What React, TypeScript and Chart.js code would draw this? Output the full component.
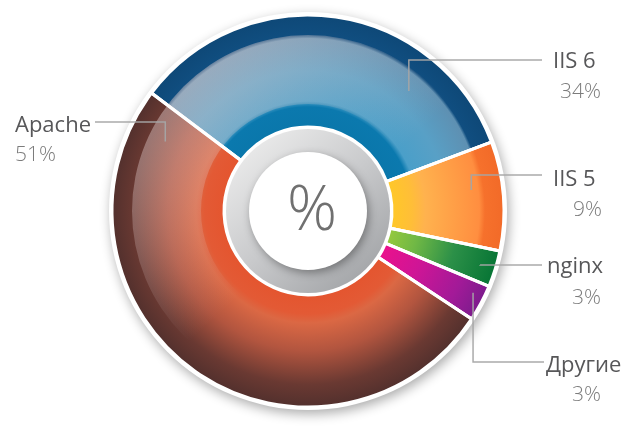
import React, { useEffect, useRef } from "react";
import { Chart, registerables } from "chart.js";

Chart.register(...registerables);

// ---- data ----
const categories = ["IIS 6", "IIS 5", "nginx", "Другие", "Apache"];
const shares = [34, 9, 3, 3, 51];
const percentLabels = ["34%", "9%", "3%", "3%", "51%"];
const centerSymbol = "%";

// ---- styles (radial colour stops, t: 0 = inner edge, 1 = outer edge) ----
const gradientStops: [number, string][][] = [
  [[0, "#0A77AB"], [0.18, "#0B79AE"], [0.23, "#4A9FC9"], [0.5, "#58A0C6"], [0.79, "#5E90B2"], [0.815, "#104E80"], [1, "#0E4877"]],
  [[0, "#FFC828"], [0.18, "#FFBE38"], [0.3, "#FFB24E"], [0.78, "#FF8E40"], [0.83, "#F6712C"], [1, "#F26A28"]],
  [[0, "#95C93E"], [0.25, "#70B845"], [0.6, "#2C9048"], [1, "#077535"]],
  [[0, "#EA118C"], [0.35, "#CF1596"], [0.75, "#A21A98"], [1, "#7D1C8D"]],
  [[0, "#E4552F"], [0.17, "#E35A35"], [0.25, "#DB6844"], [0.5, "#B2553F"], [0.8, "#6A3932"], [1, "#52302D"]],
];

// ---- label layout (anchor inside the slice, elbow line, text placement) ----
const labelLayout = [
  { side: "right", angleFrac: 0.76, radiusFrac: 0.8, lineY: 60, lineEnd: 542, nameX: 553, nameY: 68, pctX: 601, pctY: 98 },
  { side: "right", angleFrac: 0.41, radiusFrac: 0.84, lineY: 175, lineEnd: 542, nameX: 553, nameY: 186, pctX: 602, pctY: 216 },
  { side: "right", angleFrac: 0.52, radiusFrac: 0.92, lineY: 265, lineEnd: 542, nameX: 547, nameY: 273, pctX: 601, pctY: 304 },
  { side: "right", angleFrac: 0.35, radiusFrac: 0.94, lineY: 362, lineEnd: 544, nameX: 546, nameY: 372, pctX: 601, pctY: 401 },
  { side: "left", angleFrac: 0.94, radiusFrac: 0.81, lineY: 122, lineEnd: 95, nameX: 15, nameY: 132, pctX: 15, pctY: 161 },
];

const CUTOUT = 84;
const BORDER = 3;

function geometry(chart: any) {
  const a = chart.chartArea;
  const cx = (a.left + a.right) / 2;
  const cy = (a.top + a.bottom) / 2;
  const outer = (Math.min(a.right - a.left, a.bottom - a.top) - BORDER) / 2;
  return { cx, cy, outer, inner: CUTOUT };
}

const decorPlugin = {
  id: "decor",
  beforeDatasetsDraw(chart: any) {
    const ctx = chart.ctx;
    const { cx, cy, outer } = geometry(chart);
    ctx.save();
    ctx.shadowColor = "rgba(0,0,0,0.33)";
    ctx.shadowBlur = 12;
    ctx.shadowOffsetX = 2;
    ctx.shadowOffsetY = 4;
    ctx.fillStyle = "#ffffff";
    ctx.beginPath();
    ctx.arc(cx, cy, outer + 3, 0, Math.PI * 2);
    ctx.fill();
    ctx.restore();
  },
  afterDatasetsDraw(chart: any) {
    const ctx = chart.ctx;
    const { cx, cy, outer, inner } = geometry(chart);
    const meta = chart.getDatasetMeta(0);

    // glossy light from the upper left, on the middle band only
    ctx.save();
    ctx.beginPath();
    ctx.arc(cx, cy, 176, 0, Math.PI * 2);
    ctx.arc(cx, cy, 107, 0, Math.PI * 2, true);
    ctx.clip();
    const g = ctx.createLinearGradient(cx - 190, cy - 120, cx + 20, cy + 110);
    g.addColorStop(0, "rgba(225,205,205,0.55)");
    g.addColorStop(0.45, "rgba(225,205,205,0.22)");
    g.addColorStop(0.75, "rgba(225,205,205,0)");
    ctx.fillStyle = g;
    ctx.fillRect(cx - outer, cy - outer, outer * 2, outer * 2);
    ctx.restore();

    // re-draw white separators over the overlay
    ctx.save();
    ctx.strokeStyle = "#ffffff";
    ctx.lineWidth = BORDER;
    meta.data.forEach((arc: any) => {
      const p = arc.getProps(["startAngle"], true);
      ctx.beginPath();
      ctx.moveTo(cx + Math.cos(p.startAngle) * (inner - 1), cy + Math.sin(p.startAngle) * (inner - 1));
      ctx.lineTo(cx + Math.cos(p.startAngle) * (outer + 1), cy + Math.sin(p.startAngle) * (outer + 1));
      ctx.stroke();
    });
    ctx.restore();

    // grey ring
    ctx.save();
    const rg = ctx.createLinearGradient(cx - 60, cy - 70, cx + 60, cy + 70);
    rg.addColorStop(0, "#EBEBEB");
    rg.addColorStop(0.5, "#C9CACC");
    rg.addColorStop(1, "#A2A4A7");
    ctx.fillStyle = rg;
    ctx.beginPath();
    ctx.arc(cx, cy, inner - 2, 0, Math.PI * 2);
    ctx.fill();
    ctx.restore();

    // white disk with shadow
    ctx.save();
    ctx.shadowColor = "rgba(0,0,0,0.35)";
    ctx.shadowBlur = 9;
    ctx.shadowOffsetX = 2;
    ctx.shadowOffsetY = 3;
    ctx.fillStyle = "#ffffff";
    ctx.beginPath();
    ctx.arc(cx, cy, 59, 0, Math.PI * 2);
    ctx.fill();
    ctx.restore();

    // centre symbol
    ctx.save();
    ctx.fillStyle = "#707070";
    ctx.font = "300 62px 'Open Sans', sans-serif";
    ctx.textAlign = "center";
    ctx.textBaseline = "middle";
    ctx.fillText(centerSymbol, cx + 4, cy + 1);
    ctx.restore();

    // labels with elbow leader lines
    ctx.save();
    meta.data.forEach((arc: any, i: number) => {
      const L = labelLayout[i];
      const p = arc.getProps(["startAngle", "endAngle"], true);
      const ang = p.startAngle + L.angleFrac * (p.endAngle - p.startAngle);
      const r = L.radiusFrac * outer;
      const ax = cx + Math.cos(ang) * r;
      const ay = cy + Math.sin(ang) * r;
      ctx.strokeStyle = "rgba(165,165,165,0.95)";
      ctx.lineWidth = 1.5;
      ctx.beginPath();
      ctx.moveTo(ax, ay);
      ctx.lineTo(ax, L.lineY);
      ctx.lineTo(L.lineEnd, L.lineY);
      ctx.stroke();

      ctx.textBaseline = "alphabetic";
      ctx.fillStyle = "#575759";
      ctx.font = "400 22px 'Open Sans', sans-serif";
      ctx.textAlign = "left";
      ctx.fillText(categories[i], L.nameX, L.nameY);

      ctx.fillStyle = "#7C7C7C";
      ctx.font = "300 21px 'Open Sans', sans-serif";
      ctx.textAlign = L.side === "right" ? "right" : "left";
      ctx.fillText(percentLabels[i], L.pctX, L.pctY);
    });
    ctx.restore();
  },
};

export default function App() {
  const ref = useRef<HTMLCanvasElement | null>(null);

  useEffect(() => {
    document.body.style.margin = "0";
    const canvas = ref.current;
    if (!canvas) return;
    const chart = new Chart(canvas, {
      type: "doughnut",
      data: {
        labels: categories,
        datasets: [
          {
            data: shares,
            backgroundColor: (c: any) => {
              const ch = c.chart;
              if (!ch.chartArea) return "#999";
              const { cx, cy, outer, inner } = geometry(ch);
              const grad = ch.ctx.createRadialGradient(cx, cy, inner, cx, cy, outer);
              const stops = gradientStops[c.dataIndex] || gradientStops[0];
              stops.forEach(([t, col]) => grad.addColorStop(t, col));
              return grad;
            },
            borderColor: "#ffffff",
            borderWidth: BORDER,
            hoverBorderWidth: BORDER,
            hoverOffset: 0,
            offset: 0,
          } as any,
        ],
      },
      options: {
        responsive: false,
        animation: false,
        cutout: CUTOUT,
        rotation: -53,
        events: [],
        layout: { padding: { left: 110.5, right: 122.5, top: 13.5, bottom: 28.5 } },
        plugins: { legend: { display: false }, tooltip: { enabled: false } },
      } as any,
      plugins: [decorPlugin],
    });
    return () => chart.destroy();
  }, []);

  return (
    <div style={{ position: "absolute", left: 0, top: 0, width: 628, height: 437, background: "#ffffff" }}>
      <canvas ref={ref} width={628} height={437} style={{ display: "block", width: 628, height: 437 }} />
    </div>
  );
}
